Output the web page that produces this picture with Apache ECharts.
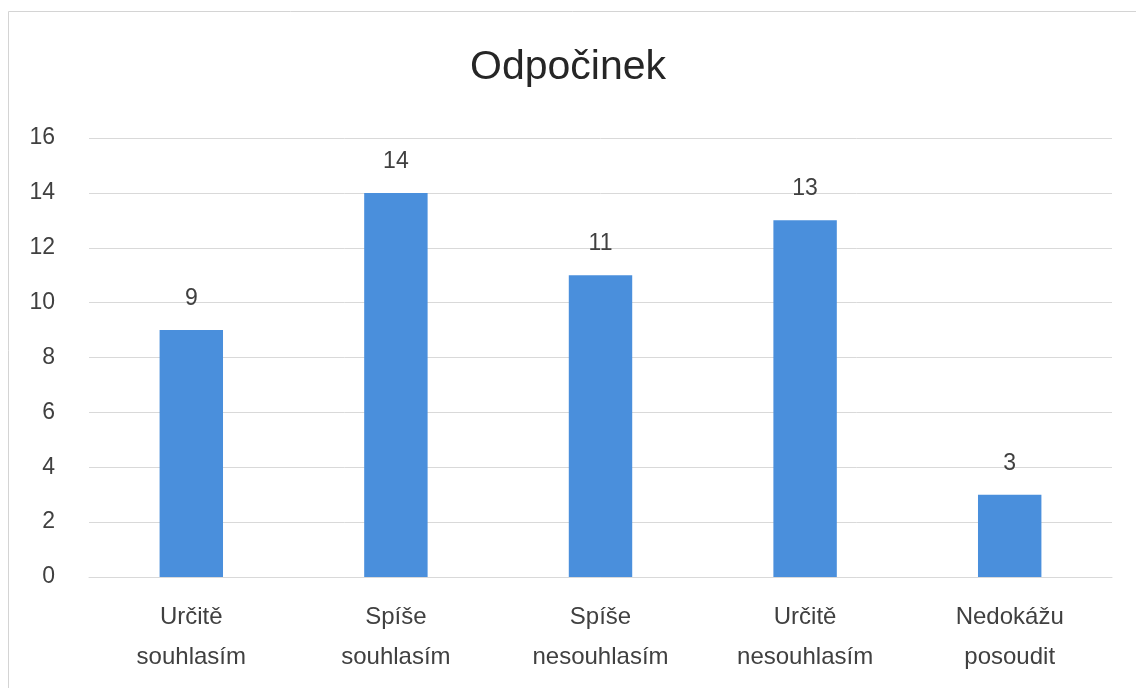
<!DOCTYPE html>
<html>
<head>
<meta charset="utf-8">
<script src="https://cdn.jsdelivr.net/npm/echarts@6/dist/echarts.min.js"></script>
<style>
  html, body { margin: 0; padding: 0; background: #fff; }
  #main { width: 1136px; height: 688px; }
</style>
</head>
<body>
<div id="main"></div>
<script>
let categories = ['Určitě\nsouhlasím', 'Spíše\nsouhlasím', 'Spíše\nnesouhlasím', 'Určitě\nnesouhlasím', 'Nedokážu\nposoudit'];
let values = [9, 14, 11, 13, 3];
let yTicks = { min: 0, max: 16, interval: 2 };

let chart = echarts.init(document.getElementById('main'));
let textColor = '#404040';

let option = {
    animation: false,
    backgroundColor: '#fff',
    title: {
        text: 'Odpočinek',
        left: 'center',
        top: 42,
        textStyle: {
            fontFamily: 'Liberation Sans',
            fontSize: 41,
            fontWeight: 'normal',
            color: '#262626'
        }
    },
    // frame of the original picture, only top and left edges visible
    graphic: [{
        type: 'rect',
        shape: { x: 8.5, y: 11.5, width: 1200, height: 800 },
        style: { fill: 'none', stroke: '#d4d4d4', lineWidth: 1 },
        silent: true
    }],
    grid: {
        left: 89,
        right: 24,
        top: 138,
        bottom: 111
    },
    xAxis: {
        type: 'category',
        data: categories,
        axisTick: { show: false },
        axisLine: { lineStyle: { color: '#d9d9d9' } },
        axisLabel: {
            fontFamily: 'Liberation Sans',
            fontSize: 24,
            lineHeight: 40,
            color: textColor,
            margin: 20
        }
    },
    yAxis: {
        type: 'value',
        min: yTicks.min,
        max: yTicks.max,
        interval: yTicks.interval,
        axisLine: { show: false },
        axisTick: { show: false },
        splitLine: { lineStyle: { color: '#d9d9d9' } },
        axisLabel: {
            fontFamily: 'Liberation Sans',
            fontSize: 23,
            color: textColor,
            margin: 34
        }
    },
    series: [{
        type: 'bar',
        data: values,
        barWidth: '31%',
        itemStyle: { color: '#4a8fdc' },
        label: {
            show: true,
            position: 'top',
            distance: 20,
            fontFamily: 'Liberation Sans',
            fontSize: 23,
            color: textColor
        }
    }]
};
chart.setOption(option);
</script>
</body>
</html>
